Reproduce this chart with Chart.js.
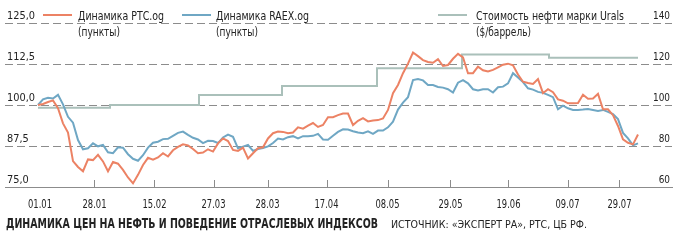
<!DOCTYPE html>
<html><head><meta charset="utf-8">
<script src="https://cdn.jsdelivr.net/npm/chart.js@4.4.1/dist/chart.umd.min.js"></script>
<style>html,body{margin:0;padding:0;background:#fff}canvas{display:block}</style>
</head><body>
<canvas id="c" width="680" height="240"></canvas>
<script>
// ---- data (index = sampling step along the time axis) ----
const rtsValues = [
  100.0,100.3,100.9,101.4,99.0,94.4,91.6,82.9,81.1,79.8,
  83.4,83.2,84.8,82.8,79.8,82.6,82.1,80.2,77.9,76.1,
  78.7,81.7,83.9,83.3,84.0,85.3,84.3,86.2,87.2,88.0,
  87.7,86.6,85.3,85.5,86.5,85.8,88.3,89.8,89.0,86.3,
  86.0,87.0,83.7,85.3,86.8,87.1,89.8,91.4,91.9,91.8,
  91.4,91.6,93.2,92.8,93.7,94.5,93.3,93.9,96.3,96.3,
  96.9,97.4,97.4,93.9,95.2,96.0,95.0,95.3,95.4,95.9,
  98.5,103.6,106.1,109.7,112.6,116.0,114.9,113.7,113.1,112.9,
  114.0,111.9,112.2,114.1,115.6,114.5,109.7,109.7,111.7,110.6,
  110.2,110.7,111.5,112.3,112.6,112.1,109.3,107.1,106.7,106.4,
  107.9,103.6,104.8,103.9,101.7,101.3,100.5,100.5,100.6,103.1,
  101.9,102.0,103.4,98.7,98.7,96.9,93.6,89.5,88.5,88.0,91.0
];
const raexValues = [
  100.0,101.7,102.2,102.0,103.1,100.2,96.4,94.6,89.3,86.5,
  86.8,88.3,87.4,87.8,85.6,85.3,87.1,87.0,85.0,83.6,
  83.0,84.7,87.0,88.5,88.8,89.6,89.7,90.6,91.5,91.9,
  90.9,90.0,89.5,88.4,89.1,89.0,88.4,90.1,91.0,90.3,
  86.8,87.3,87.8,86.0,86.6,86.9,87.4,88.4,89.8,89.5,
  90.2,90.5,89.8,90.5,90.5,90.6,91.2,89.5,89.4,90.6,
  91.8,92.6,92.5,92.0,91.6,91.4,92.0,91.2,92.2,92.2,
  93.2,94.9,98.6,100.7,102.4,107.6,107.9,107.5,106.1,106.1,
  105.5,105.3,104.8,103.8,106.8,107.6,106.6,104.8,104.4,104.8,
  104.8,103.8,105.4,105.6,106.6,109.7,108.4,107.0,105.1,104.7,
  104.0,103.7,103.1,102.4,98.7,99.8,99.0,98.5,98.5,98.6,
  98.8,98.5,98.2,98.5,97.9,97.2,95.7,91.5,89.8,87.7,88.3
];
const uralsChangeIdx = [0, 14.4, 32.2, 48.8, 67.8, 84.8, 102.2, 120];
const uralsPrice     = [98.7, 100, 104.9, 109.3, 117.9, 124.6, 123.1, 123.1];

const xTickPos    = [0.4, 11.3, 23.3, 35.1, 45.9, 57.7, 69.9, 82.5, 94.1, 105.9, 116.3];
const xTickLabels = ['01.01','28.01','15.02','27.03','28.03','17.04','08.05','29.05','19.06','09.07','29.07'];
const leftTickValues  = [75, 87.5, 100, 112.5, 125];
const leftTickLabels  = ['75,0','87,5','100,0','112,5','125,0'];
const rightTickValues = [60, 80, 100, 120, 140];
const rightTickLabels = ['60','80','100','120','140'];
const legendNames = ['Динамика РТС.og','Динамика RAEX.og','Стоимость нефти марки Urals'];
const legendUnits = ['(пункты)','(пункты)','($/баррель)'];
const titleText  = 'ДИНАМИКА ЦЕН НА НЕФТЬ И ПОВЕДЕНИЕ ОТРАСЛЕВЫХ ИНДЕКСОВ';
const sourceText = 'ИСТОЧНИК: «ЭКСПЕРТ РА», РТС, ЦБ РФ.';

// ---- styling ----
const C_RTS = '#ec8264', C_RAEX = '#6fa7c4', C_URALS = '#aac0ba', C_GRID = '#8c8c8c', C_TEXT = '#222';
const FAM = '"Liberation Sans Narrow", "DejaVu Sans Condensed", "Liberation Sans", Arial, sans-serif';

function widthScale(ctx, font, text, w) { ctx.font = font; return w / ctx.measureText(text).width; }
function drawText(ctx, text, x, y, font, align, sx) {
  ctx.save();
  ctx.font = font; ctx.fillStyle = C_TEXT; ctx.textBaseline = 'alphabetic'; ctx.textAlign = align;
  ctx.translate(x, y); ctx.scale(sx, 1); ctx.fillText(text, 0, 0);
  ctx.restore();
}

const decor = {
  id: 'decor',
  afterDraw(chart) {
    const ctx = chart.ctx, xs = chart.scales.x, ys = chart.scales.y, y2 = chart.scales.y2;
    const area = chart.chartArea;
    // x tick marks (inside, above the baseline)
    ctx.save(); ctx.strokeStyle = C_GRID; ctx.lineWidth = 1;
    xTickPos.forEach((p, i) => {
      if (i === 0) return;
      const x = Math.round(xs.getPixelForValue(p)) + 0.5;
      ctx.beginPath(); ctx.moveTo(x, area.bottom); ctx.lineTo(x, area.bottom - 7); ctx.stroke();
    });
    ctx.restore();
    // axis labels
    const fY = '10.5px ' + FAM;
    let s = widthScale(ctx, fY, '125,0', 28);
    leftTickValues.forEach((v, i) => drawText(ctx, leftTickLabels[i], area.left + 2, ys.getPixelForValue(v) - 4, fY, 'left', s));
    s = widthScale(ctx, fY, '140', 17);
    rightTickValues.forEach((v, i) => drawText(ctx, rightTickLabels[i], area.right - 2, y2.getPixelForValue(v) - 4, fY, 'right', s));
    const fX = '11.5px ' + FAM;
    s = widthScale(ctx, fX, '01.01', 24);
    xTickPos.forEach((p, i) => drawText(ctx, xTickLabels[i], xs.getPixelForValue(p), area.bottom + 20.5, fX, 'center', s));
    // legend
    const lx = [[43, 72], [182, 211], [438, 467]], tx = [78, 216, 476], tw = [86, 93, 148];
    const cols = [C_RTS, C_RAEX, C_URALS];
    const fL = '12px ' + FAM;
    const su = widthScale(ctx, fL, '(пункты)', 42);
    lx.forEach((l, i) => {
      ctx.save(); ctx.strokeStyle = cols[i]; ctx.lineWidth = 2;
      ctx.beginPath(); ctx.moveTo(l[0], 15); ctx.lineTo(l[1], 15); ctx.stroke(); ctx.restore();
      drawText(ctx, legendNames[i], tx[i], 20, fL, 'left', widthScale(ctx, fL, legendNames[i], tw[i]));
      drawText(ctx, legendUnits[i], tx[i], 36, fL, 'left', su);
    });
    // title + source
    const fT = 'bold 14px ' + FAM;
    drawText(ctx, titleText, 6, 227.5, fT, 'left', widthScale(ctx, fT, titleText, 372));
    const fS = '10px ' + FAM;
    drawText(ctx, sourceText, 391, 227.5, fS, 'left', widthScale(ctx, fS, sourceText, 196));
  }
};

new Chart(document.getElementById('c'), {
  type: 'line',
  data: {
    datasets: [
      { label: legendNames[0], data: rtsValues.map((v, i) => ({x: i, y: v})), borderColor: C_RTS,
        borderWidth: 2, pointRadius: 0, tension: 0, yAxisID: 'y', order: 0 },
      { label: legendNames[1], data: raexValues.map((v, i) => ({x: i, y: v})), borderColor: C_RAEX,
        borderWidth: 2, pointRadius: 0, tension: 0, yAxisID: 'y', order: 1 },
      { label: legendNames[2], data: uralsChangeIdx.map((x, i) => ({x: x, y: uralsPrice[i]})), borderColor: C_URALS,
        borderWidth: 2, pointRadius: 0, stepped: 'before', yAxisID: 'y2', order: 2 }
    ]
  },
  options: {
    responsive: false, animation: false, devicePixelRatio: 1,
    layout: { padding: { left: 5, right: 8, top: 23, bottom: 53 } },
    plugins: { legend: { display: false }, tooltip: { enabled: false } },
    scales: {
      x: { type: 'linear', min: -6.6, max: 126.8,
           ticks: { display: false }, grid: { display: false, drawTicks: false },
           border: { display: true, color: C_GRID, width: 1 } },
      y: { position: 'left', min: 75, max: 125, ticks: { display: false, stepSize: 12.5 },
           grid: { drawTicks: false, lineWidth: 1,
                   color: c => (c.tick && c.tick.value === 75) ? 'rgba(0,0,0,0)' : C_GRID },
           border: { display: false, dash: [8, 4] } },
      y2: { position: 'right', min: 60, max: 140, display: false }
    }
  },
  plugins: [decor]
});
</script>
</body></html>
